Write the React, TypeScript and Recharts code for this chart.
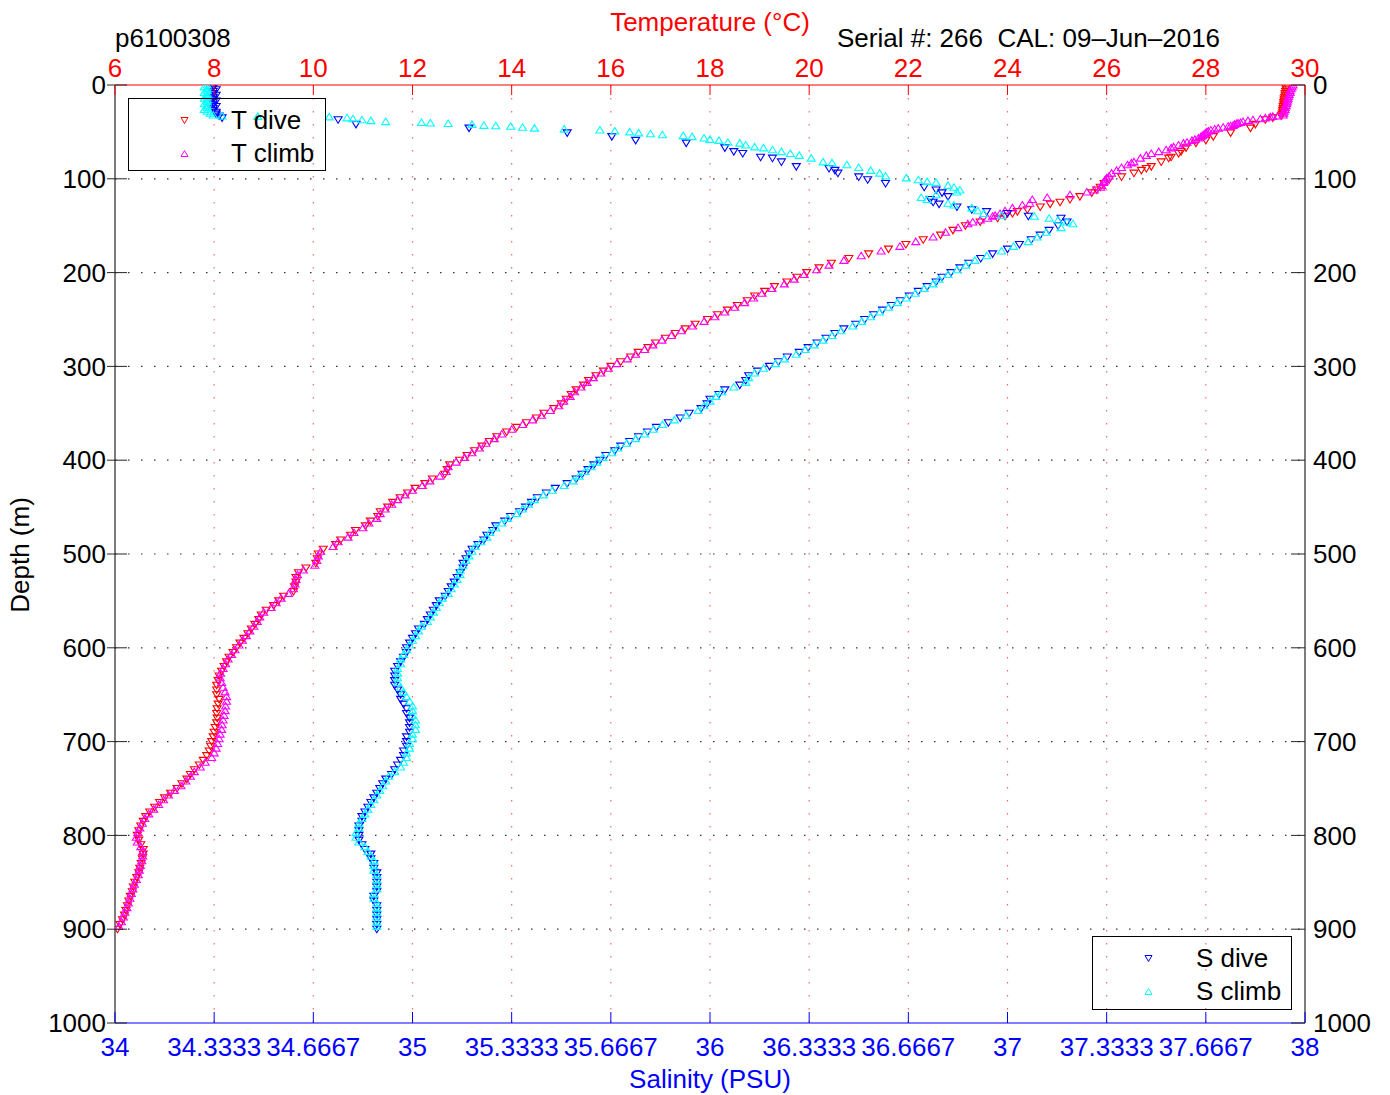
import React from 'react'
import { ScatterChart, Scatter, XAxis, YAxis, ReferenceLine } from 'recharts'

// temperature axis (top) and salinity axis (bottom)
const tempTicks = [6, 8, 10, 12, 14, 16, 18, 20, 22, 24, 26, 28, 30]
const salTicks = [34, 34 + 1 / 3, 34 + 2 / 3, 35, 35 + 1 / 3, 35 + 2 / 3, 36, 36 + 1 / 3, 36 + 2 / 3, 37, 37 + 1 / 3, 37 + 2 / 3, 38]
const salTickLabels = ['34', '34.3333', '34.6667', '35', '35.3333', '35.6667', '36', '36.3333', '36.6667', '37', '37.3333', '37.6667', '38']
const depthTicks = [0, 100, 200, 300, 400, 500, 600, 700, 800, 900, 1000]

// dive cast
const diveDepth = [
    1, 3, 5, 7, 9, 11, 13, 15, 17, 19, 21, 23, 25, 27, 29, 31, 33,
    35, 37, 42, 46, 51, 55, 59, 62, 67, 71, 73, 77, 78, 82, 87, 89, 91, 94, 98,
    101, 105, 109, 112, 115, 119, 122, 125, 127, 130, 133, 135, 137, 140, 142, 146, 150,
    155, 160, 165, 170, 175, 180, 185, 190, 195, 200,
    205, 210, 215, 220, 225, 230, 235, 240, 245, 250,
    255, 260, 265, 270, 275, 280, 285, 290, 295, 300,
    305, 310, 315, 320, 325, 330, 335, 340, 345, 350,
    355, 360, 365, 370, 375, 380, 385, 390, 395, 400,
    405, 410, 415, 420, 425, 430, 435, 440, 445, 450,
    455, 460, 465, 470, 475, 480, 485, 490, 495, 500,
    505, 510, 515, 520, 525, 530, 535, 540, 545, 550,
    555, 560, 565, 570, 575, 580, 585, 590, 595, 600,
    605, 610, 615, 620, 625, 630, 635, 640, 645, 650,
    655, 660, 665, 670, 675, 680, 685, 690, 695, 700,
    705, 710, 715, 720, 725, 730, 735, 740, 745, 750,
    755, 760, 765, 770, 775, 780, 785, 790, 795, 800,
    805, 810, 815, 820, 825, 830, 835, 840, 845, 850,
    855, 860, 865, 870, 875, 880, 885, 890, 895, 900,
]
const diveTemp = [
    29.64, 29.62, 29.62, 29.61, 29.6, 29.6, 29.59, 29.58, 29.58, 29.57, 29.57, 29.56, 29.56, 29.55, 29.55, 29.54, 29.52,
    29.35, 29.2, 29.0, 28.9, 28.5, 28.15, 28.0, 27.8, 27.6, 27.5, 27.45, 27.3, 27.25, 27.1, 26.9, 26.8, 26.7, 26.55, 26.3,
    26.05, 25.95, 25.87, 25.8, 25.7, 25.46, 25.26, 25.06, 24.86, 24.66, 24.4, 24.2, 24.1, 23.95, 23.8, 23.45, 23.15,
    22.9, 22.65, 22.3, 21.95, 21.6, 21.2, 20.8, 20.45, 20.2, 19.95,
    19.75, 19.55, 19.3, 19.1, 18.9, 18.75, 18.55, 18.35, 18.15, 17.95,
    17.7, 17.5, 17.3, 17.1, 16.9, 16.75, 16.55, 16.4, 16.2, 16.0,
    15.85, 15.7, 15.55, 15.45, 15.3, 15.2, 15.1, 15.0, 14.85, 14.65,
    14.5, 14.3, 14.1, 13.9, 13.7, 13.55, 13.4, 13.25, 13.1, 12.95,
    12.75, 12.7, 12.65, 12.4, 12.25, 12.05, 11.9, 11.75, 11.6, 11.5,
    11.35, 11.3, 11.15, 11.05, 10.85, 10.75, 10.55, 10.45, 10.2, 10.1,
    10.08, 10.05, 9.85, 9.7, 9.65, 9.65, 9.62, 9.6, 9.4, 9.3,
    9.2, 9.05, 8.95, 8.9, 8.82, 8.75, 8.68, 8.6, 8.52, 8.45,
    8.38, 8.3, 8.25, 8.2, 8.15, 8.1, 8.08, 8.05, 8.05, 8.05,
    8.1, 8.08, 8.06, 8.05, 8.06, 8.05, 8.02, 8.0, 7.98, 7.95,
    7.93, 7.9, 7.85, 7.78, 7.7, 7.6, 7.52, 7.45, 7.35, 7.25,
    7.12, 7.0, 6.9, 6.8, 6.7, 6.62, 6.57, 6.52, 6.48, 6.45,
    6.48, 6.52, 6.57, 6.57, 6.55, 6.53, 6.5, 6.48, 6.44, 6.4,
    6.37, 6.35, 6.31, 6.28, 6.25, 6.22, 6.19, 6.15, 6.1, 6.05,
]
const diveSal = [
    34.33, 34.33, 34.34, 34.33, 34.33, 34.34, 34.33, 34.33, 34.34, 34.33, 34.33, 34.34, 34.33, 34.33, 34.34, 34.34, 34.35,
    34.36, 34.75, 34.81, 35.19, 35.52, 35.67, 35.75, 35.92, 36.05, 36.08, 36.11, 36.17, 36.21, 36.24, 36.29, 36.4, 36.42, 36.43, 36.5,
    36.53, 36.59, 36.72, 36.76, 36.78, 36.8, 36.74, 36.75, 36.77, 36.83, 36.88, 36.93, 37.0, 37.07, 37.18, 37.2, 37.17,
    37.14, 37.11, 37.08, 37.04, 37.0, 36.95, 36.91, 36.87, 36.84, 36.81,
    36.78, 36.76, 36.73, 36.7, 36.67, 36.64, 36.61, 36.58, 36.55, 36.52,
    36.49, 36.45, 36.42, 36.39, 36.36, 36.33, 36.3, 36.26, 36.23, 36.2,
    36.16, 36.13, 36.12, 36.1, 36.05, 36.03, 36.0, 35.99, 35.97, 35.93,
    35.9, 35.86, 35.82, 35.79, 35.76, 35.73, 35.7, 35.68, 35.65, 35.63,
    35.61, 35.59, 35.57, 35.55, 35.52, 35.48, 35.45, 35.42, 35.4, 35.38,
    35.36, 35.33, 35.31, 35.28, 35.27, 35.25, 35.24, 35.22, 35.2, 35.19,
    35.18, 35.17, 35.17, 35.16, 35.15, 35.14, 35.13, 35.12, 35.11, 35.09,
    35.08, 35.07, 35.06, 35.05, 35.04, 35.02, 35.01, 35.0, 34.99, 34.98,
    34.98, 34.97, 34.96, 34.95, 34.94, 34.94, 34.94, 34.94, 34.95, 34.96,
    34.96, 34.97, 34.98, 34.98, 34.99, 34.99, 34.99, 34.99, 34.98, 34.98,
    34.98, 34.97, 34.97, 34.96, 34.95, 34.94, 34.93, 34.91, 34.9, 34.89,
    34.88, 34.87, 34.86, 34.85, 34.84, 34.83, 34.83, 34.82, 34.82, 34.82,
    34.82, 34.83, 34.84, 34.86, 34.86, 34.87, 34.87, 34.88, 34.88, 34.88,
    34.88, 34.88, 34.87, 34.87, 34.88, 34.88, 34.88, 34.88, 34.88, 34.88,
]

// climb cast
const climbDepth = [
    0, 2, 4, 6, 8, 10, 12, 14, 16, 18, 20, 22, 24, 26, 28, 30, 32,
    33, 33.5, 34, 35, 36, 37, 38, 39, 40, 40.5, 41, 42, 43, 43.5, 44, 45, 46, 47, 48, 49,
    50, 51, 52, 53, 54, 55, 56.5, 58, 59, 61, 62, 64, 66, 67, 69, 71, 73, 75, 78,
    82, 83, 85, 88, 91, 94, 97, 99, 101, 103, 104, 107, 109, 112, 114, 117,
    120, 122, 126, 128, 131, 134, 137, 139, 140, 142, 144, 146, 148, 152,
    157, 162, 167, 172, 177, 182, 187, 192, 197, 202,
    207, 212, 217, 222, 227, 232, 237, 242, 247, 252,
    257, 262, 267, 272, 277, 282, 287, 292, 297, 302,
    307, 312, 317, 322, 327, 332, 337, 342, 347, 352,
    357, 362, 367, 372, 377, 382, 387, 392, 397, 402,
    407, 412, 417, 422, 427, 432, 437, 442, 447, 452,
    457, 462, 467, 472, 477, 482, 487, 492, 497, 502,
    507, 512, 517, 522, 527, 532, 537, 542, 547, 552,
    557, 562, 567, 572, 577, 582, 587, 592, 597, 602,
    607, 612, 617, 622, 627, 632, 637, 642, 647, 652,
    657, 662, 667, 672, 677, 682, 687, 692, 697, 702,
    707, 712, 717, 722, 727, 732, 737, 742, 747, 752,
    757, 762, 767, 772, 777, 782, 787, 792, 797, 802,
    807, 812, 817, 822, 827, 832, 837, 842, 847, 852,
    857, 862, 867, 872, 877, 882, 887, 892, 897,
]
const climbTemp = [
    29.76, 29.74, 29.72, 29.7, 29.7, 29.68, 29.67, 29.66, 29.65, 29.64, 29.63, 29.62, 29.6, 29.6, 29.58, 29.57, 29.56,
    29.45, 29.35, 29.3, 29.2, 29.1, 28.95, 28.85, 28.75, 28.7, 28.65, 28.62, 28.58, 28.55, 28.5, 28.45, 28.35, 28.25, 28.18, 28.1, 28.05,
    28.02, 28.0, 27.98, 27.95, 27.93, 27.9, 27.85, 27.78, 27.72, 27.62, 27.55, 27.45, 27.35, 27.3, 27.2, 27.05, 26.9, 26.8, 26.68,
    26.55, 26.5, 26.42, 26.3, 26.2, 26.1, 26.05, 26.0, 25.97, 25.95, 25.93, 25.9, 25.88, 25.75, 25.6, 25.26,
    24.8, 24.5, 24.45, 24.3, 24.1, 23.95, 23.85, 23.75, 23.7, 23.6, 23.45, 23.3, 23.2, 23.0,
    22.75, 22.5, 22.15, 21.83, 21.45, 21.05, 20.7, 20.4, 20.15, 19.9,
    19.7, 19.5, 19.25, 19.05, 18.88, 18.7, 18.5, 18.3, 18.1, 17.88,
    17.65, 17.42, 17.22, 17.03, 16.85, 16.68, 16.5, 16.33, 16.12, 15.95,
    15.8, 15.65, 15.52, 15.4, 15.27, 15.18, 15.05, 14.95, 14.78, 14.6,
    14.42, 14.22, 14.0, 13.8, 13.65, 13.48, 13.35, 13.2, 13.05, 12.88,
    12.72, 12.68, 12.55, 12.35, 12.2, 12.0, 11.85, 11.7, 11.58, 11.45,
    11.35, 11.28, 11.12, 11.0, 10.82, 10.7, 10.5, 10.4, 10.15, 10.1,
    10.07, 10.03, 9.8, 9.68, 9.65, 9.63, 9.6, 9.5, 9.35, 9.25,
    9.15, 9.0, 8.92, 8.87, 8.8, 8.72, 8.65, 8.57, 8.5, 8.42,
    8.35, 8.28, 8.23, 8.18, 8.13, 8.12, 8.15, 8.18, 8.22, 8.25,
    8.25, 8.23, 8.22, 8.2, 8.18, 8.16, 8.15, 8.12, 8.1, 8.07,
    8.04, 8.0, 7.95, 7.82, 7.72, 7.6, 7.52, 7.43, 7.33, 7.2,
    7.08, 6.98, 6.88, 6.78, 6.68, 6.6, 6.55, 6.5, 6.46, 6.43,
    6.45, 6.52, 6.56, 6.56, 6.54, 6.51, 6.49, 6.47, 6.43, 6.39,
    6.36, 6.33, 6.3, 6.27, 6.24, 6.2, 6.17, 6.13, 6.08,
]
const climbSal = [
    34.31, 34.3, 34.31, 34.31, 34.3, 34.31, 34.31, 34.3, 34.31, 34.31, 34.3, 34.31, 34.31, 34.3, 34.31, 34.32, 34.33,
    34.36, 34.48, 34.72, 34.78, 34.8, 34.83, 34.86, 34.91, 35.03, 35.06, 35.12, 35.2, 35.24, 35.28, 35.33, 35.37, 35.41, 35.51, 35.63, 35.68,
    35.73, 35.76, 35.8, 35.84, 35.91, 35.94, 35.98, 36.0, 36.03, 36.06, 36.1, 36.12, 36.15, 36.18, 36.21, 36.24, 36.27, 36.3, 36.34,
    36.38, 36.41, 36.46, 36.5, 36.54, 36.57, 36.59, 36.66, 36.7, 36.73, 36.76, 36.8, 36.82, 36.84, 36.83, 36.76,
    36.71, 36.73, 36.8, 36.82, 36.88, 36.9, 36.92, 36.98, 37.09, 37.14, 37.17, 37.2, 37.22, 37.18,
    37.13, 37.1, 37.07, 37.02, 36.98, 36.93, 36.89, 36.86, 36.83, 36.8,
    36.77, 36.75, 36.72, 36.69, 36.66, 36.63, 36.6, 36.57, 36.54, 36.51,
    36.48, 36.44, 36.41, 36.38, 36.35, 36.32, 36.29, 36.25, 36.22, 36.18,
    36.15, 36.13, 36.12, 36.08, 36.04, 36.02, 36.0, 35.98, 35.96, 35.92,
    35.88, 35.84, 35.81, 35.78, 35.75, 35.72, 35.69, 35.67, 35.64, 35.62,
    35.6, 35.58, 35.56, 35.54, 35.51, 35.47, 35.44, 35.41, 35.39, 35.37,
    35.35, 35.32, 35.3, 35.28, 35.26, 35.25, 35.23, 35.21, 35.2, 35.19,
    35.18, 35.17, 35.16, 35.16, 35.15, 35.14, 35.13, 35.12, 35.1, 35.09,
    35.08, 35.07, 35.06, 35.05, 35.03, 35.02, 35.01, 35.0, 34.99, 34.98,
    34.97, 34.96, 34.96, 34.95, 34.95, 34.95, 34.95, 34.96, 34.97, 34.98,
    34.99, 35.0, 35.0, 35.0, 35.01, 35.01, 35.01, 35.0, 35.0, 34.99,
    34.99, 34.98, 34.98, 34.97, 34.96, 34.94, 34.92, 34.91, 34.9, 34.89,
    34.88, 34.87, 34.86, 34.85, 34.84, 34.83, 34.82, 34.82, 34.81, 34.81,
    34.82, 34.84, 34.85, 34.86, 34.87, 34.87, 34.87, 34.88, 34.88, 34.88,
    34.88, 34.87, 34.87, 34.88, 34.88, 34.88, 34.88, 34.88, 34.88,
]

const FONT = '"Liberation Sans", Arial, Helvetica, sans-serif'
const RED = '#ff0000'
const MAGENTA = '#ff00ff'
const BLUE = '#0000ff'
const CYAN = '#00ffff'
const AXIS = '#262626'

const tDive = diveDepth.map((d, i) => ({ x: diveTemp[i], y: d }))
const sDive = diveDepth.map((d, i) => ({ x: diveSal[i], y: d }))
const tClimb = climbDepth.map((d, i) => ({ x: climbTemp[i], y: d }))
const sClimb = climbDepth.map((d, i) => ({ x: climbSal[i], y: d }))

const down = (color: string) => (p: any) => (
    <path
        d={`M${p.cx - 4},${p.cy - 3}L${p.cx + 4},${p.cy - 3}L${p.cx},${p.cy + 3.5}Z`}
        fill="none"
        stroke={color}
        strokeWidth={1.1}
    />
)
const up = (color: string) => (p: any) => (
    <path
        d={`M${p.cx - 4},${p.cy + 3}L${p.cx + 4},${p.cy + 3}L${p.cx},${p.cy - 3.5}Z`}
        fill="none"
        stroke={color}
        strokeWidth={1.1}
    />
)

const TopTick = (p: any) => (
    <g>
        <line x1={p.x} y1={p.y} x2={p.x} y2={p.y + 10} stroke={RED} />
        <text x={p.x} y={p.y - 17} dy="0.35em" textAnchor="middle" fill={RED} fontSize={26} fontFamily={FONT}>
            {p.payload.value}
        </text>
    </g>
)
const BottomTick = (p: any) => (
    <g>
        <line x1={p.x} y1={p.y} x2={p.x} y2={p.y - 11} stroke={BLUE} />
        <text x={p.x} y={p.y + 24} dy="0.35em" textAnchor="middle" fill={BLUE} fontSize={26} fontFamily={FONT}>
            {salTickLabels[p.index]}
        </text>
    </g>
)
const LeftTick = (p: any) => (
    <g>
        <line x1={p.x - 8} y1={p.y} x2={p.x + 12} y2={p.y} stroke={AXIS} />
        <text x={p.x - 9} y={p.y} dy="0.35em" textAnchor="end" fill="#000" fontSize={26} fontFamily={FONT}>
            {p.payload.value}
        </text>
    </g>
)
const RightTick = (p: any) => (
    <g>
        <line x1={p.x - 14} y1={p.y} x2={p.x} y2={p.y} stroke={AXIS} />
        <text x={p.x + 8} y={p.y} dy="0.35em" textAnchor="start" fill="#000" fontSize={26} fontFamily={FONT}>
            {p.payload.value}
        </text>
    </g>
)

function Marker({ dir, color }: { dir: 'up' | 'down'; color: string }) {
    const d = dir === 'down' ? 'M1,1.5L8,1.5L4.5,7.5Z' : 'M1,7.5L8,7.5L4.5,1.5Z'
    return (
        <svg width={9} height={9} style={{ position: 'absolute', left: -4.5, top: -4.5 }}>
            <path d={d} fill="none" stroke={color} strokeWidth={1} />
        </svg>
    )
}

function LegendBox({ left, top, width, height, items }: any) {
    return (
        <div
            style={{
                position: 'absolute',
                left,
                top,
                width,
                height,
                border: '1.5px solid #000',
                boxSizing: 'border-box',
            }}
        >
            {items.map((it: any) => (
                <React.Fragment key={it.label}>
                    <div style={{ position: 'absolute', left: 55, top: it.y }}>
                        <Marker dir={it.dir} color={it.color} />
                    </div>
                    <div
                        style={{
                            position: 'absolute',
                            left: it.tx,
                            top: it.y - 13,
                            fontSize: 26,
                            lineHeight: '26px',
                            whiteSpace: 'nowrap',
                        }}
                    >
                        {it.label}
                    </div>
                </React.Fragment>
            ))}
        </div>
    )
}

export default function App() {
    return (
        <div style={{ position: 'relative', width: 1374, height: 1087, fontFamily: FONT, background: '#fff' }}>
            <ScatterChart width={1374} height={1080} margin={{ top: 37, right: 17, bottom: 25, left: 47 }}>
                <XAxis
                    xAxisId="t"
                    orientation="top"
                    type="number"
                    dataKey="x"
                    domain={[6, 30]}
                    ticks={tempTicks}
                    interval={0}
                    height={40}
                    axisLine={{ stroke: RED, strokeWidth: 1.2 }}
                    tickLine={false}
                    tickSize={0}
                    tickMargin={0}
                    tick={TopTick}
                    allowDataOverflow
                />
                <XAxis
                    xAxisId="s"
                    orientation="bottom"
                    type="number"
                    dataKey="x"
                    domain={[34, 38]}
                    ticks={salTicks}
                    interval={0}
                    height={40}
                    axisLine={{ stroke: BLUE, strokeWidth: 1.2 }}
                    tickLine={false}
                    tickSize={0}
                    tickMargin={0}
                    tick={BottomTick}
                    allowDataOverflow
                />
                <YAxis
                    yAxisId="left"
                    type="number"
                    dataKey="y"
                    domain={[0, 1000]}
                    reversed
                    ticks={depthTicks}
                    interval={0}
                    width={60}
                    axisLine={{ stroke: AXIS, strokeWidth: 1.2 }}
                    tickLine={false}
                    tickSize={0}
                    tickMargin={0}
                    tick={LeftTick}
                    allowDataOverflow
                />
                <YAxis
                    yAxisId="right"
                    orientation="right"
                    type="number"
                    dataKey="y"
                    domain={[0, 1000]}
                    reversed
                    ticks={depthTicks}
                    interval={0}
                    width={60}
                    axisLine={{ stroke: AXIS, strokeWidth: 1.2 }}
                    tickLine={false}
                    tickSize={0}
                    tickMargin={0}
                    tick={RightTick}
                    allowDataOverflow
                />
                {depthTicks.slice(1, -1).map((d) => (
                    <ReferenceLine
                        key={'h' + d}
                        y={d}
                        yAxisId="left"
                        xAxisId="t"
                        stroke="#333"
                        strokeWidth={1.2}
                        strokeDasharray="1.5 11.5"
                    />
                ))}
                {tempTicks.slice(1, -1).map((t) => (
                    <ReferenceLine
                        key={'v' + t}
                        x={t}
                        xAxisId="t"
                        yAxisId="left"
                        stroke={RED}
                        strokeOpacity={0.6}
                        strokeWidth={1.2}
                        strokeDasharray="1.5 11.5"
                    />
                ))}
                <Scatter name="T dive" data={tDive} xAxisId="t" yAxisId="left" shape={down(RED)} isAnimationActive={false} />
                <Scatter name="T climb" data={tClimb} xAxisId="t" yAxisId="left" shape={up(MAGENTA)} isAnimationActive={false} />
                <Scatter name="S dive" data={sDive} xAxisId="s" yAxisId="right" shape={down(BLUE)} isAnimationActive={false} />
                <Scatter name="S climb" data={sClimb} xAxisId="s" yAxisId="right" shape={up(CYAN)} isAnimationActive={false} />
            </ScatterChart>

            <div style={{ position: 'absolute', left: 107, top: 17, fontSize: 26, lineHeight: '26px' }}>p6100308</div>
            <div
                style={{
                    position: 'absolute',
                    left: 702,
                    top: 1,
                    transform: 'translateX(-50%)',
                    fontSize: 26,
                    lineHeight: '26px',
                    color: RED,
                    whiteSpace: 'nowrap',
                }}
            >
                Temperature (°C)
            </div>
            <div style={{ position: 'absolute', left: 829, top: 17, fontSize: 26, lineHeight: '26px', whiteSpace: 'pre' }}>
                {'Serial #: 266  CAL: 09–Jun–2016'}
            </div>
            <div
                style={{
                    position: 'absolute',
                    left: 702,
                    top: 1058,
                    transform: 'translateX(-50%)',
                    fontSize: 26,
                    lineHeight: '26px',
                    color: BLUE,
                    whiteSpace: 'nowrap',
                }}
            >
                Salinity (PSU)
            </div>
            <div
                style={{
                    position: 'absolute',
                    left: 12,
                    top: 547,
                    transform: 'translate(-50%, -50%) rotate(-90deg)',
                    fontSize: 26,
                    lineHeight: '26px',
                    whiteSpace: 'nowrap',
                }}
            >
                Depth (m)
            </div>

            <LegendBox
                left={120}
                top={90}
                width={198}
                height={73}
                items={[
                    { label: 'T dive', dir: 'down', color: RED, y: 21, tx: 102 },
                    { label: 'T climb', dir: 'up', color: MAGENTA, y: 54, tx: 102 },
                ]}
            />
            <LegendBox
                left={1084}
                top={928}
                width={200}
                height={74}
                items={[
                    { label: 'S dive', dir: 'down', color: BLUE, y: 21, tx: 103 },
                    { label: 'S climb', dir: 'up', color: CYAN, y: 54, tx: 103 },
                ]}
            />
        </div>
    )
}
